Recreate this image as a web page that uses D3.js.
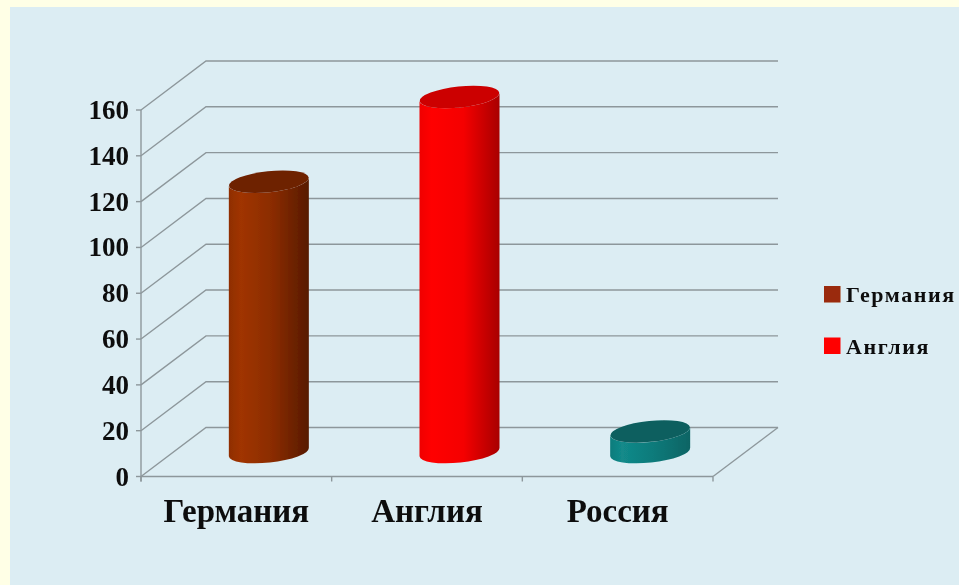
<!DOCTYPE html>
<html>
<head>
  <meta charset="UTF-8">
  <style>
    html, body { margin: 0; padding: 0; background: #ffffe6; overflow: hidden; }
    text { font-family: "Liberation Serif", serif; font-weight: bold; fill: #111; }
  </style>
</head>
<body>
<div id="my_dataviz"></div>
<script src="https://d3js.org/d3.v7.min.js"></script>
<script>

// data
var categories = ["Германия", "Англия", "Россия"];
var values = [118, 155, 9];
var yTicks = [0, 20, 40, 60, 80, 100, 120, 140, 160];
var legendNames = ["Германия", "Англия"];

// colours per bar: edge, bright, middle, right of the body, then the lid
var barColors = [
  ["#8f2e00", "#a03400", "#8a2c00", "#571a00", "#6e2000"],
  ["#f00000", "#ff0505", "#f50000", "#a80000", "#cc0000"],
  ["#0e7c7c", "#128a8a", "#0e7a7a", "#086464", "#0a5f5f"]
];
var legendColors = ["#9a2a08", "#ff0000"];

var width = 959, height = 585;

// front plane of the box
var x = d3.scaleBand().domain(categories).range([141, 713]);
var y = d3.scaleLinear().domain([0, 160]).range([476.5, 110]);
var depthX = 65, depthY = -49;

var svg = d3.select("#my_dataviz")
  .append("svg")
    .attr("width", width)
    .attr("height", height)
    .style("display", "block");

var defs = svg.append("defs");
defs.append("filter").attr("id", "soft")
  .append("feGaussianBlur").attr("stdDeviation", 0.6);

categories.forEach(function(c, i) {
  var g = defs.append("linearGradient").attr("id", "bar" + i);
  g.append("stop").attr("offset", "0%").attr("stop-color", barColors[i][0]);
  g.append("stop").attr("offset", "15%").attr("stop-color", barColors[i][1]);
  g.append("stop").attr("offset", "55%").attr("stop-color", barColors[i][2]);
  g.append("stop").attr("offset", "100%").attr("stop-color", barColors[i][3]);
});

// panel
svg.append("rect")
  .attr("x", 10).attr("y", 7)
  .attr("width", width - 10).attr("height", height - 7)
  .attr("fill", "#dcedf3");

var chart = svg.append("g").attr("filter", "url(#soft)");

// grid: side wall and back wall
var gridColor = "#8d979b";
var grid = chart.append("g")
  .attr("fill", "none")
  .attr("stroke", gridColor)
  .attr("stroke-width", 1.4);

grid.selectAll("polyline")
  .data(yTicks)
  .enter()
  .append("polyline")
    .attr("points", function(d) {
      return [
        [141, y(d)],
        [141 + depthX, y(d) + depthY],
        [x.range()[1] + depthX, y(d) + depthY]
      ].join(" ");
    });

// floor right edge
grid.append("line")
  .attr("x1", x.range()[1]).attr("y1", y(0))
  .attr("x2", x.range()[1] + depthX).attr("y2", y(0) + depthY);

// front axes
grid.append("line")
  .attr("x1", 141).attr("y1", y(160))
  .attr("x2", 141).attr("y2", y(0) + 5);
grid.append("line")
  .attr("x1", 141).attr("y1", y(0))
  .attr("x2", x.range()[1]).attr("y2", y(0));

grid.selectAll(".ytick")
  .data(yTicks)
  .enter()
  .append("line")
    .attr("class", "ytick")
    .attr("x1", 136).attr("x2", 141)
    .attr("y1", function(d) { return y(d); })
    .attr("y2", function(d) { return y(d); });

grid.selectAll(".xtick")
  .data(categories.concat(["end"]))
  .enter()
  .append("line")
    .attr("class", "xtick")
    .attr("x1", function(d, i) { return 141 + i * x.bandwidth(); })
    .attr("x2", function(d, i) { return 141 + i * x.bandwidth(); })
    .attr("y1", y(0))
    .attr("y2", y(0) + 5);

// cylinders stand half way into the box
var rx = 40, ry = 10.5, tilt = -6;
var tiltDy = rx * Math.sin(-tilt * Math.PI / 180);

var bars = chart.selectAll(".bar")
  .data(values)
  .enter()
  .append("g")
    .attr("class", "bar");

bars.append("path")
  .attr("fill", function(d, i) { return "url(#bar" + i + ")"; })
  .attr("d", function(d, i) {
    var cx = x(categories[i]) + x.bandwidth() / 2 + depthX / 2;
    var base = y(0) + depthY / 2;
    var top = y(d) + depthY / 2;
    return "M" + (cx - rx) + "," + (top + tiltDy)
      + "L" + (cx - rx) + "," + (base + tiltDy)
      + "A" + rx + "," + ry + " " + tilt + " 0 0 " + (cx + rx) + "," + (base - tiltDy)
      + "L" + (cx + rx) + "," + (top - tiltDy)
      + "A" + rx + "," + ry + " " + tilt + " 0 1 " + (cx - rx) + "," + (top + tiltDy)
      + "Z";
  });

bars.append("ellipse")
  .attr("rx", rx)
  .attr("ry", ry)
  .attr("fill", function(d, i) { return barColors[i][4]; })
  .attr("transform", function(d, i) {
    var cx = x(categories[i]) + x.bandwidth() / 2 + depthX / 2;
    return "translate(" + cx + "," + (y(d) + depthY / 2) + ") rotate(" + tilt + ")";
  });

// tick labels
chart.selectAll(".ylabel")
  .data(yTicks)
  .enter()
  .append("text")
    .attr("class", "ylabel")
    .attr("x", 129)
    .attr("y", function(d) { return y(d) + 9; })
    .attr("text-anchor", "end")
    .style("font-size", "27px")
    .text(function(d) { return d; });

chart.selectAll(".xlabel")
  .data(categories)
  .enter()
  .append("text")
    .attr("class", "xlabel")
    .attr("x", function(d) { return x(d) + x.bandwidth() / 2; })
    .attr("y", 522)
    .attr("text-anchor", "middle")
    .style("font-size", "33px")
    .text(function(d) { return d; });

// legend
var legend = chart.selectAll(".legend")
  .data(legendNames)
  .enter()
  .append("g")
    .attr("class", "legend")
    .attr("transform", function(d, i) { return "translate(824," + (286 + i * 51.5) + ")"; });

legend.append("rect")
  .attr("width", 16.5)
  .attr("height", 16.5)
  .attr("fill", function(d, i) { return legendColors[i]; });

legend.append("text")
  .attr("x", 22)
  .attr("y", 16)
  .style("font-size", "22px")
  .style("letter-spacing", "1.6px")
  .text(function(d) { return d; });

</script>
</body>
</html>
